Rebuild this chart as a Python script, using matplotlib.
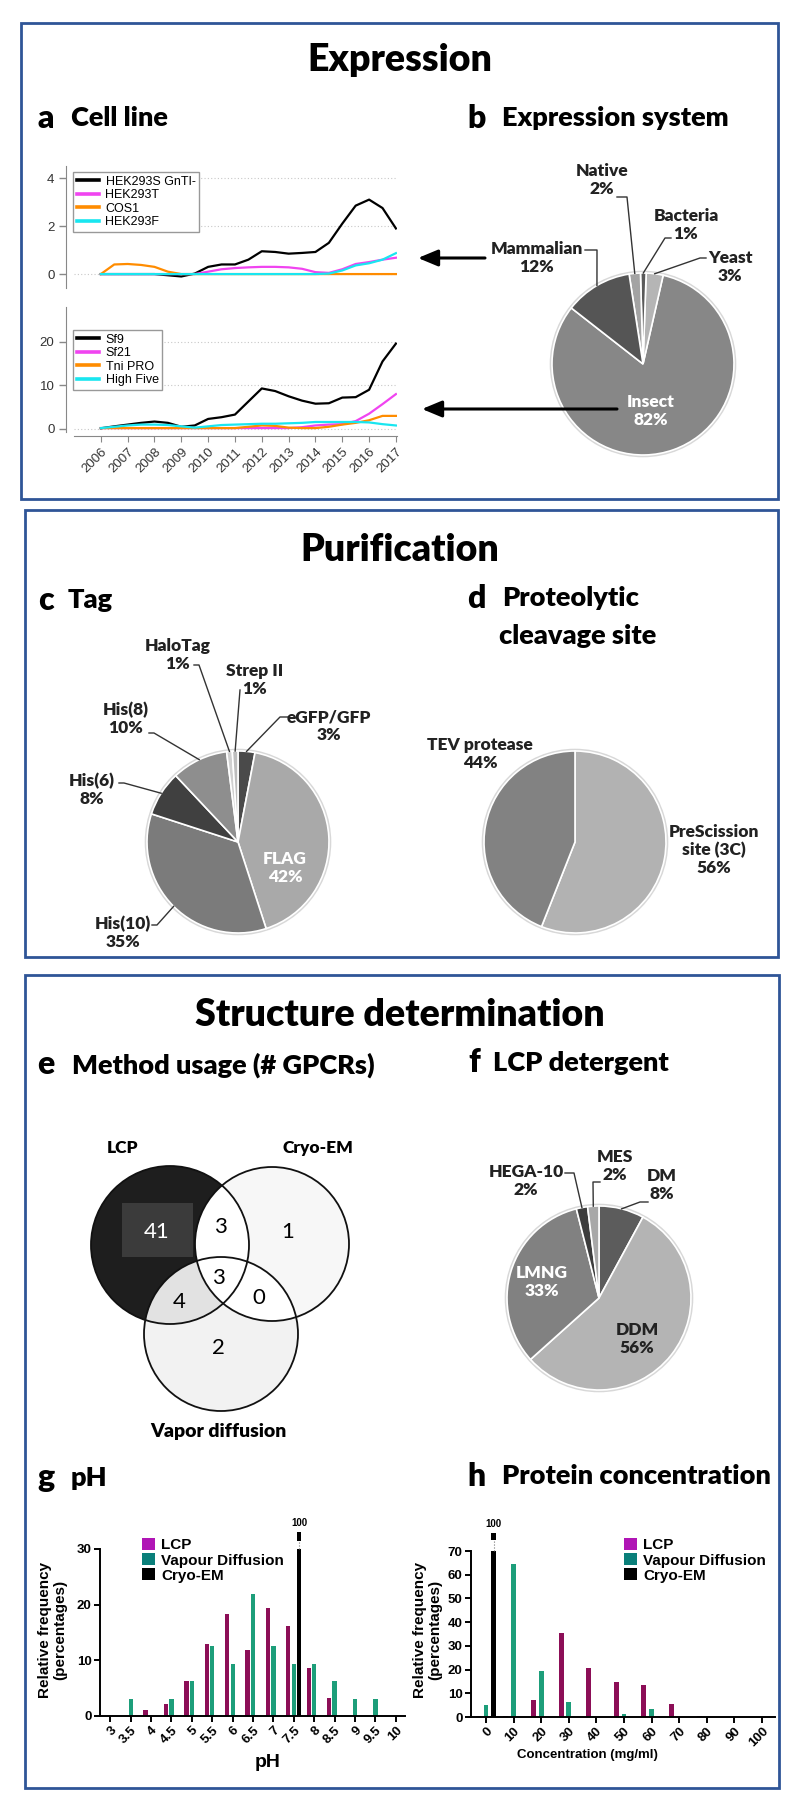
import numpy as np
import matplotlib
matplotlib.use("Agg")
import matplotlib.pyplot as plt
from matplotlib.patches import Rectangle, Circle, Patch

# ---------------- data ----------------
years = [2006, 2006.5, 2007, 2007.5, 2008, 2008.5, 2009, 2009.5, 2010, 2010.5, 2011, 2011.5,
         2012, 2012.5, 2013, 2013.5, 2014, 2014.5, 2015, 2015.5, 2016, 2016.5, 2017]

# mammalian cell lines
hek293s_gnti = [0, 0, 0, 0, 0, -0.05, -0.1, 0.02, 0.3, 0.4, 0.4, 0.6,
                0.95, 0.92, 0.85, 0.88, 0.92, 1.3, 2.1, 2.85, 3.1, 2.75, 1.9]
hek293t = [0, 0, 0, 0, 0, 0, 0, 0, 0.1, 0.2, 0.25, 0.28,
           0.3, 0.3, 0.28, 0.22, 0.08, 0.05, 0.2, 0.42, 0.5, 0.6, 0.68]
cos1 = [0, 0.4, 0.42, 0.38, 0.3, 0.1, 0, 0, 0, 0, 0, 0,
        0, 0, 0, 0, 0, 0, 0, 0, 0, 0, 0]
hek293f = [0, 0, 0, 0, 0, 0, 0, 0, 0, 0, 0, 0,
           0, 0, 0, 0, 0, 0.02, 0.15, 0.36, 0.45, 0.6, 0.87]

# insect cell lines
sf9 = [0.15, 0.6, 1.0, 1.4, 1.7, 1.4, 0.5, 0.8, 2.3, 2.7, 3.3, 6.3,
       9.3, 8.7, 7.5, 6.5, 5.8, 5.9, 7.2, 7.3, 9.0, 15.5, 19.6]
sf21 = [0.2, 0.2, 0.2, 0.2, 0.2, 0.2, 0.2, 0.2, 0.2, 0.2, 0.2, 0.2,
        0.2, 0.2, 0.2, 0.4, 0.8, 1.0, 1.1, 1.8, 3.5, 5.7, 8.0]
tni_pro = [0.2, 0.2, 0.2, 0.2, 0.2, 0.2, 0.2, 0.2, 0.2, 0.2, 0.2, 0.5,
           0.8, 0.7, 0.3, 0.2, 0.2, 0.5, 1.0, 1.4, 2.0, 3.0, 3.0]
high_five = [0.2, 0.5, 0.8, 1.0, 1.0, 0.9, 0.6, 0.3, 0.6, 0.9, 1.0, 1.1,
             1.2, 1.2, 1.3, 1.4, 1.6, 1.6, 1.6, 1.6, 1.5, 1.1, 0.8]

expr_labels = ["Insect", "Yeast", "Bacteria", "Native", "Mammalian"]
expr_pct = [82, 3, 1, 2, 12]

tag_labels = ["eGFP/GFP", "FLAG", "His(10)", "His(6)", "His(8)", "HaloTag", "Strep II"]
tag_pct = [3, 42, 35, 8, 10, 1, 1]

cleave_labels = ["PreScission\nsite (3C)", "TEV protease"]
cleave_pct = [56, 44]

det_labels = ["DM", "DDM", "LMNG", "HEGA-10", "MES"]
det_pct = [8, 56, 33, 2, 2]

venn_sets = ["LCP", "Cryo-EM", "Vapor diffusion"]
venn_counts = {"lcp": 41, "lcp_cryo": 3, "cryo": 1, "all": 3,
               "lcp_vap": 4, "cryo_vap": 0, "vap": 2}

ph_labels = ["3", "3.5", "4", "4.5", "5", "5.5", "6", "6.5", "7", "7.5", "8", "8.5", "9", "9.5", "10"]
ph_lcp = [0, 0, 1.0, 2.2, 6.3, 12.9, 18.3, 11.9, 19.3, 16.2, 8.6, 3.2, 0, 0, 0]
ph_vd = [0, 3.1, 0, 3.1, 6.2, 12.5, 9.3, 21.9, 12.5, 9.3, 9.3, 6.2, 3.1, 3.1, 0]
ph_cryo = [0, 0, 0, 0, 0, 0, 0, 0, 0, 100, 0, 0, 0, 0, 0]

conc_labels = ["0", "10", "20", "30", "40", "50", "60", "70", "80", "90", "100"]
conc_lcp = [0.5, 0.5, 7.0, 35.6, 20.7, 14.8, 13.7, 5.6, 0.5, 0, 0]
conc_vd = [4.9, 64.5, 19.3, 6.3, 0, 1.4, 3.2, 0, 0, 0, 0]
conc_cryo = [100, 0, 0, 0, 0, 0, 0, 0, 0, 0, 0]

# ---------------- layout helpers ----------------
W, H = 800, 1811
BLUE = "#2f5597"
TF = "Lato"
HW = "heavy"
plt.rcParams["font.family"] = ["Liberation Sans", "DejaVu Sans"]

fig = plt.figure(figsize=(W / 100, H / 100), dpi=100)


def frac(x0, y0, x1, y1):
    return [x0 / W, 1 - y1 / H, (x1 - x0) / W, (y1 - y0) / H]


ov = fig.add_axes([0, 0, 1, 1], zorder=10)
ov.set_xlim(0, W)
ov.set_ylim(H, 0)
ov.axis("off")

# section boxes and titles
for x0, y0, x1, y1 in [(21, 23, 778, 499), (25, 510, 778, 957), (25, 975, 779, 1788)]:
    ov.add_patch(Rectangle((x0, y0), x1 - x0, y1 - y0, fill=False, ec=BLUE, lw=2))
for txt, y in [("Expression", 60), ("Purification", 550), ("Structure determination", 1015)]:
    ov.text(400, y, txt, ha="center", va="center", fontsize=27, fontweight=HW, family=TF)


def header(xl, xt, y, letter, text):
    ov.text(xl, y, letter, fontsize=23, fontweight=HW, family=TF, va="center")
    ov.text(xt, y, text, fontsize=19.5, fontweight=HW, family=TF, va="center")


header(37, 71, 118, "a", "Cell line")
header(467, 502, 118, "b", "Expression system")
header(38, 68, 600, "c", "Tag")
header(467, 502, 598, "d", "Proteolytic")
ov.text(499, 636, "cleavage site", fontsize=19.5, fontweight=HW, family=TF, va="center")
header(37, 72, 1065, "e", "Method usage (# GPCRs)")
header(468, 493, 1063, "f", "LCP detergent")
header(37, 71, 1478, "g", "pH")
header(467, 502, 1476, "h", "Protein concentration")

# ---------------- a: cell line line charts ----------------
yrs = np.array(years)
tick_years = [int(y) for y in years[::2]]


def style_line_ax(ax, yticks, ylim):
    ax.set_xlim(2005, 2017.04)
    ax.set_ylim(*ylim)
    ax.set_yticks(yticks)
    for s in ["top", "right", "bottom"]:
        ax.spines[s].set_visible(False)
    ax.spines["left"].set_position(("outward", 6))
    ax.spines["left"].set_color("#888888")
    ax.tick_params(axis="y", length=5, width=1, color="#888888", labelsize=9.5,
                   labelcolor="#333333", pad=3)
    ax.grid(axis="y", ls=(0, (1, 2)), color="#c8c8c8", lw=0.8)
    ax.set_axisbelow(True)
    ax.patch.set_visible(False)


axt = fig.add_axes(frac(74, 166, 397, 288))
axt.plot(yrs, hek293s_gnti, color="black", lw=1.6, label="HEK293S GnTI-")
axt.plot(yrs, hek293t, color="#f044f0", lw=1.6, label="HEK293T")
axt.plot(yrs, cos1, color="#ff8c00", lw=1.6, label="COS1")
axt.plot(yrs, hek293f, color="#19e6f0", lw=1.6, label="HEK293F")
style_line_ax(axt, [0, 2, 4], (-0.58, 4.5))
axt.set_xticks([])
leg_kw = dict(loc="upper left", bbox_transform=ov.transData, fancybox=False, edgecolor="#999999",
              fontsize=9, handlelength=1.8, borderpad=0.3, labelspacing=0.12, handletextpad=0.5,
              borderaxespad=0, framealpha=1)
lg = axt.legend(bbox_to_anchor=(73, 172), **leg_kw)
for ln in lg.get_lines():
    ln.set_linewidth(2.6)

axb = fig.add_axes(frac(74, 307, 397, 432))
axb.plot(yrs, sf9, color="black", lw=1.6, label="Sf9")
axb.plot(yrs, sf21, color="#f044f0", lw=1.6, label="Sf21")
axb.plot(yrs, tni_pro, color="#ff8c00", lw=1.6, label="Tni PRO")
axb.plot(yrs, high_five, color="#19e6f0", lw=1.6, label="High Five")
style_line_ax(axb, [0, 10, 20], (-0.7, 28))
axb.spines["bottom"].set_visible(True)
axb.spines["bottom"].set_position(("outward", 3))
axb.spines["bottom"].set_color("#888888")
axb.set_xticks(tick_years)
axb.set_xticklabels([str(y) for y in tick_years], rotation=45, ha="right", va="top",
                    rotation_mode="anchor")
axb.tick_params(axis="x", length=4, color="#888888", labelsize=9.5, labelcolor="#333333", pad=3)
lg = axb.legend(bbox_to_anchor=(73, 330), **leg_kw)
for ln in lg.get_lines():
    ln.set_linewidth(2.6)

# arrows from the pie to the charts
arrow_kw = dict(arrowstyle="-|>,head_length=0.6,head_width=0.25", color="black", lw=2.2,
                mutation_scale=20, shrinkA=0, shrinkB=0)
ov.annotate("", xy=(418, 258), xytext=(485, 258), arrowprops=arrow_kw)
ov.annotate("", xy=(422, 409), xytext=(617, 409), arrowprops=arrow_kw)


# ---------------- pies ----------------
def draw_pie(cx, cy, R, values, colors, start, ccw):
    pad = 1.04
    a = fig.add_axes(frac(cx - R * pad, cy - R * pad, cx + R * pad, cy + R * pad))
    a.add_patch(Circle((0, 0), 1.01, fc="none", ec="#d8d8d8", lw=2))
    wedges, _ = a.pie(values, colors=colors, startangle=start, counterclock=ccw,
                      wedgeprops=dict(edgecolor="white", linewidth=1.2))
    a.set_xlim(-pad, pad)
    a.set_ylim(-pad, pad)
    pts = []
    for w in wedges:
        t = np.deg2rad((w.theta1 + w.theta2) / 2)
        pts.append((cx + R * np.cos(t), cy - R * np.sin(t)))
    return pts


def pie_labels(names, pcts, pts, spec):
    for name, pct, pt in zip(names, pcts, pts):
        tx, ty, col, lead = spec[name]
        ov.text(tx, ty, f"{name}\n{pct}%", ha="center", va="center", fontsize=12.5,
                fontweight=HW, family=TF, color=col, linespacing=1.15)
        if lead is not None:
            sx, sy, ex = lead
            ov.plot([sx, ex, pt[0]], [sy, sy, pt[1]], color="#333333", lw=1)


pts = draw_pie(643, 364, 91, expr_pct, ["#878787", "#b5b5b5", "#5a5a5a", "#a3a3a3", "#555555"], 142, True)
pie_labels(expr_labels, expr_pct, pts, {
    "Insect": (651, 411, "white", None),
    "Yeast": (730, 267, "#222222", (706, 258, 700)),
    "Bacteria": (686, 225, "#222222", (671, 238, 665)),
    "Native": (602, 180, "#222222", (617, 197, 627)),
    "Mammalian": (537, 258, "#222222", (585, 250, 597)),
})

pts = draw_pie(238, 842, 91, tag_pct,
               ["#4a4a4a", "#a9a9a9", "#7b7b7b", "#404040", "#8e8e8e", "#d0d0d0", "#bdbdbd"], 90, False)
pie_labels(tag_labels, tag_pct, pts, {
    "eGFP/GFP": (329, 726, "#222222", (288, 717, 280)),
    "FLAG": (285, 868, "white", None),
    "His(10)": (123, 933, "#222222", (152, 925, 157)),
    "His(6)": (92, 790, "#222222", (119, 783, 124)),
    "His(8)": (126, 719, "#222222", (149, 733, 154)),
    "HaloTag": (178, 655, "#222222", (194, 665, 199)),
    "Strep II": (255, 680, "#222222", (240, 690, 240)),
})

pts = draw_pie(575, 842, 91, cleave_pct, ["#b2b2b2", "#828282"], 90, False)
pie_labels(cleave_labels, cleave_pct, pts, {
    "PreScission\nsite (3C)": (714, 850, "#222222", None),
    "TEV protease": (480, 754, "#222222", None),
})

pts = draw_pie(599, 1298, 92, det_pct, ["#5c5c5c", "#b4b4b4", "#818181", "#3d3d3d", "#a8a8a8"], 90, False)
pie_labels(det_labels, det_pct, pts, {
    "DM": (662, 1185, "#222222", (648, 1202, 640)),
    "DDM": (637, 1339, "#222222", None),
    "LMNG": (542, 1282, "white", None),
    "HEGA-10": (526, 1181, "#222222", (565, 1173, 574)),
    "MES": (615, 1166, "#222222", (600, 1182, 593)),
})

# ---------------- e: Venn diagram ----------------
c_lcp, c_cryo, c_vap = (170, 1245, 79), (272, 1244, 77), (221, 1334, 77)


def circ(c, **kw):
    p = Circle(c[:2], c[2], **kw)
    ov.add_patch(p)
    return p


circ(c_vap, fc="#f2f2f2", ec="none")
cryo_p = circ(c_cryo, fc="#f7f7f7", ec="none")
lcp_p = circ(c_lcp, fc="#1e1e1e", ec="none")
circ(c_vap, fc="#e2e2e2", ec="none").set_clip_path(lcp_p)
circ(c_vap, fc="white", ec="none").set_clip_path(cryo_p)
circ(c_cryo, fc="white", ec="none").set_clip_path(lcp_p)
for c in (c_lcp, c_cryo, c_vap):
    circ(c, fill=False, ec="#111111", lw=1.3)
ov.add_patch(Rectangle((122, 1203), 71, 54, fc="#3b3b3b", ec="none"))

venn_pos = {"lcp": (157, 1232), "lcp_cryo": (220, 1227), "cryo": (288, 1232), "all": (218, 1278),
            "lcp_vap": (179, 1302), "cryo_vap": (259, 1298), "vap": (218, 1348)}
for key, (x, y) in venn_pos.items():
    ov.text(x, y, str(venn_counts[key]), ha="center", va="center", fontsize=16, family=TF,
            color="white" if key == "lcp" else "black")
for name, (x, y) in zip(venn_sets, [(123, 1148), (318, 1148), (218, 1432)]):
    ov.text(x, y, name, ha="center", va="center", fontsize=12.5 if name != "Vapor diffusion" else 14,
            fontweight=HW, family=TF)

# ---------------- g/h: grouped bar charts ----------------
LCP_BAR, LCP_LEG = "#8c0e57", "#b015b5"
VD_BAR, VD_LEG = "#1d9e7a", "#0a7f7a"


def bar_chart(rect, xlim, cats, lcp, vd, cryo, cap, ytop, yticks, width, off, brk, legend_xy,
              xlabel, xlabel_xy, xlabel_size, ylabel_xy):
    ax = fig.add_axes(rect)
    x = np.arange(len(cats))
    for vals, dx, col in [(lcp, -off, LCP_BAR), (vd, 0, VD_BAR), (cryo, off, "black")]:
        vals = np.array(vals, dtype=float)
        ax.bar(x + dx, np.minimum(vals, cap), width, color=col)
        for xi, v in zip(x, vals):
            if v > cap:
                ax.bar(xi + dx, brk[1] - brk[0], width, bottom=brk[0], color=col, clip_on=False)
                ax.plot([xi + dx] * 2, [cap, brk[0]], ls=":", color="#777777", lw=0.8, clip_on=False)
                ax.text(xi + dx, brk[2], f"{v:g}", ha="center", va="center", fontsize=7,
                        fontweight="bold", clip_on=False)
    ax.set_xlim(*xlim)
    ax.set_ylim(0, ytop)
    ax.set_yticks(yticks)
    ax.set_xticks(x)
    ax.set_xticklabels(cats, rotation=45, ha="right", va="top", rotation_mode="anchor",
                       fontweight="bold")
    for lab in ax.get_yticklabels():
        lab.set_fontweight("bold")
    for s in ["top", "right"]:
        ax.spines[s].set_visible(False)
    for s in ["left", "bottom"]:
        ax.spines[s].set_linewidth(1.4)
    ax.spines["left"].set_bounds(0, yticks[-1])
    ax.tick_params(length=4, width=1.4, labelsize=9.5, pad=2)
    ax.patch.set_visible(False)
    ax.set_ylabel("Relative frequency\n(percentages)", fontsize=11, fontweight="bold", linespacing=1.05)
    ax.yaxis.set_label_coords(*ylabel_xy, transform=ov.transData)
    ax.set_xlabel(xlabel, fontsize=xlabel_size, fontweight="bold")
    ax.xaxis.set_label_coords(*xlabel_xy, transform=ov.transData)
    handles = [Patch(fc=LCP_LEG), Patch(fc=VD_LEG), Patch(fc="black")]
    ax.legend(handles, ["LCP", "Vapour Diffusion", "Cryo-EM"], loc="upper left",
              bbox_to_anchor=legend_xy, bbox_transform=ov.transData, frameon=False,
              prop=dict(weight="bold", size=11), handlelength=0.85, handleheight=0.85,
              handletextpad=0.4, labelspacing=0.05, borderpad=0, borderaxespad=0)
    return ax


bar_chart(frac(100, 1521, 405, 1716), (-0.505, 14.45), ph_labels, ph_lcp, ph_vd, ph_cryo,
          30, 35, [0, 10, 20, 30], 0.21, 0.27, (31.5, 33.0, 34.6), (142, 1538),
          "pH", (268, 1754), 14, (67, 1630))
bar_chart(frac(471, 1522.6, 775, 1717), (-0.543, 10.47), conc_labels, conc_lcp, conc_vd, conc_cryo,
          70, 82, [0, 10, 20, 30, 40, 50, 60, 70], 0.18, 0.28, (74.7, 77.6, 81.2), (624, 1538),
          "Concentration (mg/ml)", (587, 1749), 9.5, (442, 1630))

fig.savefig("out.png", dpi=100)
